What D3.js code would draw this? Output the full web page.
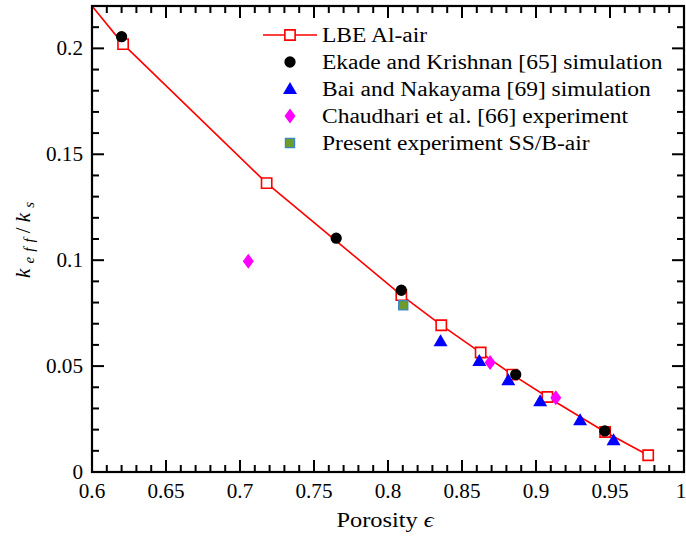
<!DOCTYPE html>
<html>
<head>
<meta charset="utf-8">
<script src="https://cdn.jsdelivr.net/npm/d3@7"></script>
<style>
  html, body { margin: 0; padding: 0; background: #fff; }
  svg { display: block; }
  text { font-family: "Liberation Serif", "DejaVu Serif", serif; fill: #000; }
</style>
</head>
<body>
<svg id="chart" width="686" height="538"></svg>
<script>
// LBE Al-air (line with open squares)
const lbeX = [0.621, 0.718, 0.809, 0.836, 0.8626, 0.884, 0.9077, 0.9467, 0.9758];
const lbeY = [0.202, 0.1364, 0.0835, 0.0693, 0.0564, 0.046, 0.0354, 0.0189, 0.0079];
// extrapolated start of the LBE curve (no marker)
const lbeStart = [0.6, 0.22];

// Ekade and Krishnan [65] simulation
const ekadeX = [0.620, 0.765, 0.809, 0.8863, 0.9465];
const ekadeY = [0.2055, 0.1104, 0.0858, 0.046, 0.0194];

// Bai and Nakayama [69] simulation
const baiX = [0.8355, 0.8617, 0.8813, 0.9028, 0.9298, 0.9524];
const baiY = [0.0617, 0.0524, 0.0433, 0.0334, 0.0244, 0.015];

// Chaudhari et al. [66] experiment
const chaudX = [0.7056, 0.869, 0.9134];
const chaudY = [0.0995, 0.0517, 0.0351];

// Present experiment SS/B-air
const presX = [0.8103];
const presY = [0.0787];

const xTicks = [0.6, 0.65, 0.7, 0.75, 0.8, 0.85, 0.9, 0.95, 1];
const xTickLabels = ["0.6", "0.65", "0.7", "0.75", "0.8", "0.85", "0.9", "0.95", "1"];
const yTicks = [0, 0.05, 0.1, 0.15, 0.2];
const yTickLabels = ["0", "0.05", "0.1", "0.15", "0.2"];

const legendLabels = [
  "LBE Al-air",
  "Ekade and Krishnan [65] simulation",
  "Bai and Nakayama [69] simulation",
  "Chaudhari et al. [66] experiment",
  "Present experiment SS/B-air"
];

const svg = d3.select("#chart");
const pL = 92, pR = 684, pT = 6, pB = 472;

const x = d3.scaleLinear().domain([0.6, 1]).range([pL, pR]);
const y = d3.scaleLinear().domain([0, 0.22]).range([pB, pT]);

const zip = (xs, ys) => xs.map((v, i) => [v, ys[i]]);

// widened serif text, anchored at (px, py)
function wideText(parent, px, py, sx, anchor, size) {
  return parent.append("g")
    .attr("transform", `translate(${px},${py}) scale(${sx},1)`)
    .append("text")
    .attr("text-anchor", anchor)
    .attr("font-size", size);
}

// clip region for data
svg.append("defs").append("clipPath").attr("id", "plotclip")
  .append("rect").attr("x", pL).attr("y", pT).attr("width", pR - pL).attr("height", pB - pT);

const plot = svg.append("g").attr("clip-path", "url(#plotclip)");

// LBE line
plot.append("path")
  .datum([lbeStart].concat(zip(lbeX, lbeY)))
  .attr("fill", "none")
  .attr("stroke", "#ff0000")
  .attr("stroke-width", 1.6)
  .attr("d", d3.line().x(d => x(d[0])).y(d => y(d[1])));

const sym = (type, size) => d3.symbol().type(type).size(size);
const squareOpen = sym(d3.symbolSquare, 105)();
const circle = sym(d3.symbolCircle, 100)();
const triangle = "M0,-7L7,5L-7,5Z";
const diamond = "M0,-7.5L5.5,0L0,7.5L-5.5,0Z";
const squareFilled = sym(d3.symbolSquare, 85)();

// LBE open squares
plot.selectAll(".lbe").data(zip(lbeX, lbeY)).join("path")
  .attr("transform", d => `translate(${x(d[0])},${y(d[1])})`)
  .attr("d", squareOpen)
  .attr("fill", "#fff").attr("stroke", "#ff0000").attr("stroke-width", 1.6);

// Ekade circles
plot.selectAll(".ekade").data(zip(ekadeX, ekadeY)).join("path")
  .attr("transform", d => `translate(${x(d[0])},${y(d[1])})`)
  .attr("d", circle)
  .attr("fill", "#000");

// Bai triangles
plot.selectAll(".bai").data(zip(baiX, baiY)).join("path")
  .attr("transform", d => `translate(${x(d[0])},${y(d[1])})`)
  .attr("d", triangle)
  .attr("fill", "#0000ff");

// Chaudhari diamonds
plot.selectAll(".chaud").data(zip(chaudX, chaudY)).join("path")
  .attr("transform", d => `translate(${x(d[0])},${y(d[1])})`)
  .attr("d", diamond)
  .attr("fill", "#ff00ff");

// Present experiment squares
plot.selectAll(".pres").data(zip(presX, presY)).join("path")
  .attr("transform", d => `translate(${x(d[0])},${y(d[1])})`)
  .attr("d", squareFilled)
  .attr("fill", "#6c9b2e").attr("stroke", "#3d86c6").attr("stroke-width", 1.2);

// Frame
svg.append("rect")
  .attr("x", pL).attr("y", pT).attr("width", pR - pL).attr("height", pB - pT)
  .attr("fill", "none").attr("stroke", "#000").attr("stroke-width", 2.2);

// Ticks (inward on all four sides)
const xMinor = d3.range(0.6, 1.0001, 0.01).map(v => +v.toFixed(2));
const yMinor = d3.range(0, 0.22001, 0.01).map(v => +v.toFixed(2));
const isMajor = (v, step) => Math.abs(v / step - Math.round(v / step)) < 1e-6;

const tickG = svg.append("g").attr("stroke", "#000").attr("stroke-width", 2);
xMinor.forEach(v => {
  const len = isMajor(v, 0.05) ? 12 : 7;
  tickG.append("line").attr("x1", x(v)).attr("x2", x(v)).attr("y1", pB).attr("y2", pB - len);
  tickG.append("line").attr("x1", x(v)).attr("x2", x(v)).attr("y1", pT).attr("y2", pT + len);
});
yMinor.forEach(v => {
  const len = isMajor(v, 0.05) ? 12 : 7;
  tickG.append("line").attr("x1", pL).attr("x2", pL + len).attr("y1", y(v)).attr("y2", y(v));
  tickG.append("line").attr("x1", pR).attr("x2", pR - len).attr("y1", y(v)).attr("y2", y(v));
});

// Tick labels
const xLabG = svg.append("g");
xTicks.forEach((v, i) => {
  wideText(xLabG, Math.min(x(v), 681), 498, 1.06, "middle", 20).text(xTickLabels[i]);
});
const yLabG = svg.append("g");
yTicks.forEach((v, i) => {
  wideText(yLabG, 83, y(v) + 7, 1.06, "end", 20).text(yTickLabels[i]);
});

// Axis titles
const xt = wideText(svg, 385, 527, 1.22, "middle", 20);
xt.append("tspan").text("Porosity ");
xt.append("tspan").attr("font-style", "italic").text("ϵ");

const yt = svg.append("text")
  .attr("transform", "translate(30,240) rotate(-90)")
  .attr("text-anchor", "middle").attr("font-size", 21).attr("font-style", "italic")
  .attr("textLength", 76).attr("lengthAdjust", "spacing");
yt.append("tspan").text("k");
yt.append("tspan").attr("font-size", 15).attr("dy", 4).text("eff");
yt.append("tspan").attr("dy", -4).attr("font-style", "normal").text("/");
yt.append("tspan").text("k");
yt.append("tspan").attr("font-size", 15).attr("dy", 4).text("s");

// Legend
const lg = svg.append("g");
const rowY = i => 35 + i * 27;
const mx = 290, tx = 322;
lg.append("line").attr("x1", 263).attr("x2", 317).attr("y1", rowY(0)).attr("y2", rowY(0))
  .attr("stroke", "#ff0000").attr("stroke-width", 1.6);
lg.append("path").attr("transform", `translate(${mx},${rowY(0)})`)
  .attr("d", squareOpen).attr("fill", "#fff").attr("stroke", "#ff0000").attr("stroke-width", 1.6);
lg.append("path").attr("transform", `translate(${mx},${rowY(1)})`)
  .attr("d", circle).attr("fill", "#000");
lg.append("path").attr("transform", `translate(${mx},${rowY(2)})`)
  .attr("d", triangle).attr("fill", "#0000ff");
lg.append("path").attr("transform", `translate(${mx},${rowY(3)})`)
  .attr("d", diamond).attr("fill", "#ff00ff");
lg.append("path").attr("transform", `translate(${mx},${rowY(4)})`)
  .attr("d", squareFilled).attr("fill", "#6c9b2e").attr("stroke", "#3d86c6").attr("stroke-width", 1.2);

legendLabels.forEach((label, i) => {
  wideText(lg, tx, rowY(i) + 7, 1.175, "start", 20).text(label);
});
</script>
</body>
</html>
